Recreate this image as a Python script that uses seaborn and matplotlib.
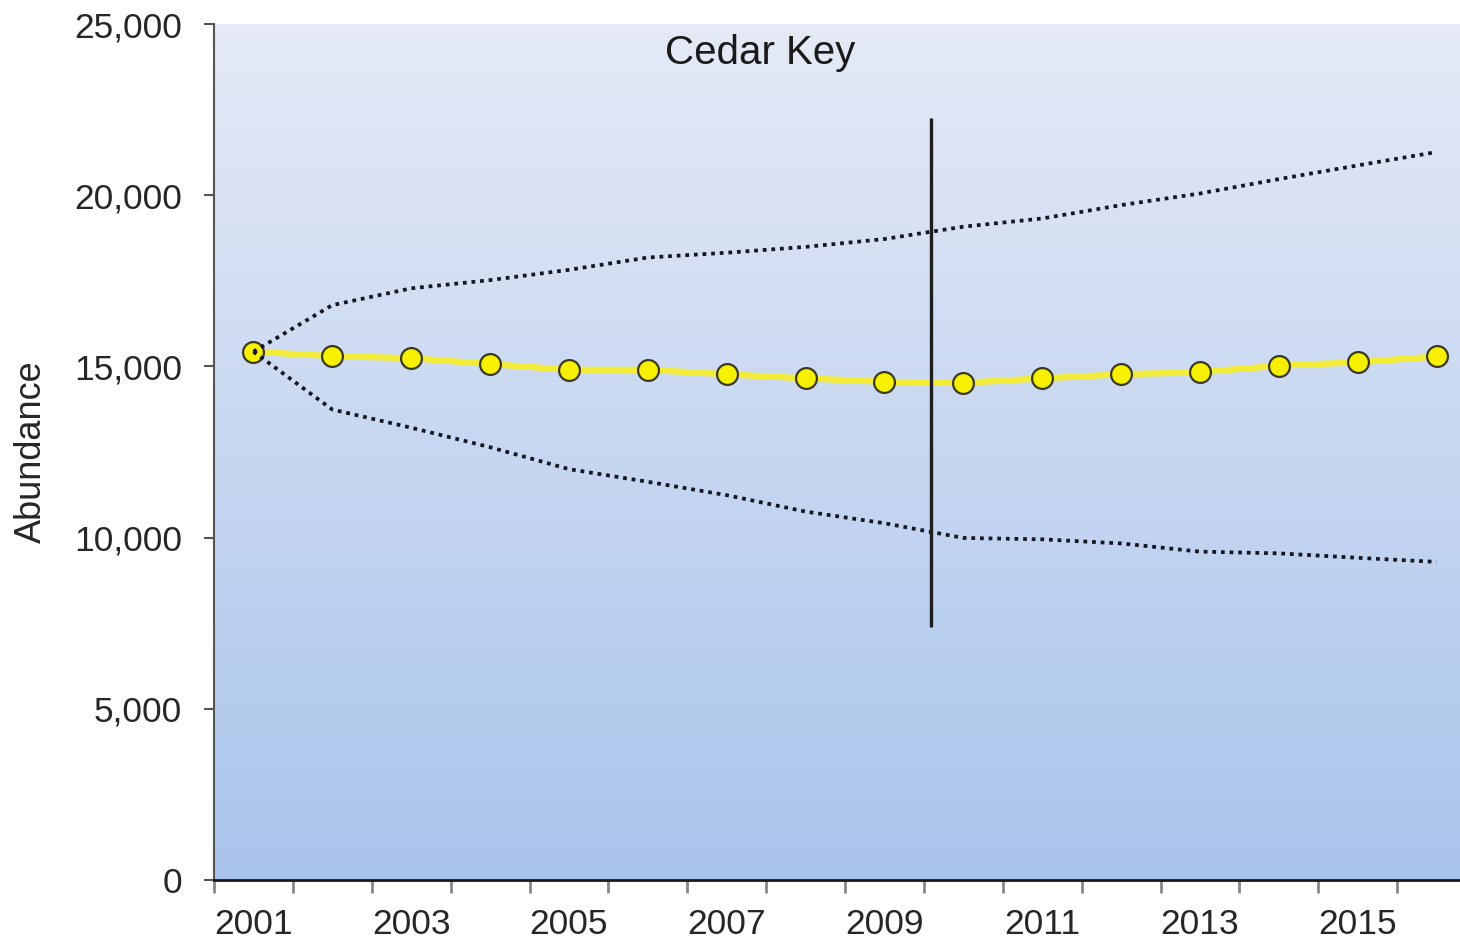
"""Cedar Key abundance projection chart."""

import numpy as np
import pandas as pd
import matplotlib
matplotlib.use('Agg')
import matplotlib.pyplot as plt
import seaborn as sns
from matplotlib.colors import LinearSegmentedColormap

years = list(range(2001, 2017))
abundance = [15430, 15300, 15240, 15070, 14900, 14900, 14770, 14650,
             14550, 14520, 14650, 14770, 14830, 15020, 15120, 15290]
upper = [15430, 16790, 17280, 17520, 17820, 18180, 18320, 18490,
         18720, 19080, 19320, 19710, 20050, 20470, 20870, 21260]
lower = [15430, 13740, 13210, 12640, 12000, 11630, 11240, 10760,
         10420, 9990, 9950, 9830, 9590, 9540, 9410, 9290]
label_years = [2001, 2003, 2005, 2007, 2009, 2011, 2013, 2015]
marker_year = 2009.59          # vertical divider between 2009 and 2010
marker_span = (7390, 22250)

sns.set_style('white')
plt.rcParams['font.family'] = ['Liberation Sans', 'DejaVu Sans']

df = pd.DataFrame({'pos': np.arange(len(years)), 'year': years,
                   'abundance': abundance, 'upper': upper, 'lower': lower})

fig = plt.figure(figsize=(14.6, 9.43), dpi=100)
ax = fig.add_axes([214 / 1460, 63 / 943, 1262 / 1460, 856 / 943])

# gradient background of the plot area
grad = LinearSegmentedColormap.from_list('bg', ['#a9c4ec', '#e5eaf6'])
ax.imshow(np.linspace(0, 1, 256).reshape(-1, 1), cmap=grad, origin='lower',
          extent=[0, 1, 0, 1], transform=ax.transAxes, aspect='auto', zorder=0)

sns.lineplot(data=df, x='pos', y='abundance', ax=ax, color='#f3ec38',
             linewidth=4.5, marker='o', markersize=15, markerfacecolor='#f7f000',
             markeredgecolor='#3a3a20', markeredgewidth=1.6, zorder=3)
for col in ['upper', 'lower']:
    sns.lineplot(data=df, x='pos', y=col, ax=ax, color='#15151f',
                 linewidth=2.7, linestyle=(0, (1, 1.3)), zorder=4)

ax.vlines(marker_year - years[0], *marker_span, color='#1e1e1e',
          linewidth=2.4, zorder=5)

ax.set_xlim(-0.5, len(years) - 0.5)
ax.set_ylim(0, 25000)
ax.set_yticks(range(0, 25001, 5000))
ax.set_yticklabels([f'{v:,}' for v in range(0, 25001, 5000)], fontsize=25.5)
ax.set_xticks(np.arange(len(years)) - 0.5)
ax.set_xticklabels([])
ax.set_xticks([years.index(y) for y in label_years], minor=True)
ax.set_xticklabels([str(y) for y in label_years], minor=True, fontsize=25.5)
ax.tick_params(axis='x', which='major', bottom=True, direction='out', length=9,
               width=2, color='#888888')
ax.tick_params(axis='x', which='minor', bottom=True, length=0, pad=20)
ax.tick_params(axis='y', left=True, direction='out', length=7, width=1.5,
               color='#555555', pad=16)

ax.set_xlabel('')
ax.set_ylabel('Abundance', fontsize=26, labelpad=18)
ax.text(0.433, 0.988, 'Cedar Key', transform=ax.transAxes, fontsize=29,
        ha='center', va='top', color='#1a1a1a')

for side in ['top', 'right']:
    ax.spines[side].set_visible(False)
ax.spines['left'].set_color('#555555')
ax.spines['left'].set_linewidth(1.5)
ax.spines['bottom'].set_color('#1a1a1a')
ax.spines['bottom'].set_linewidth(2)

fig.savefig('out.png', dpi=100)
